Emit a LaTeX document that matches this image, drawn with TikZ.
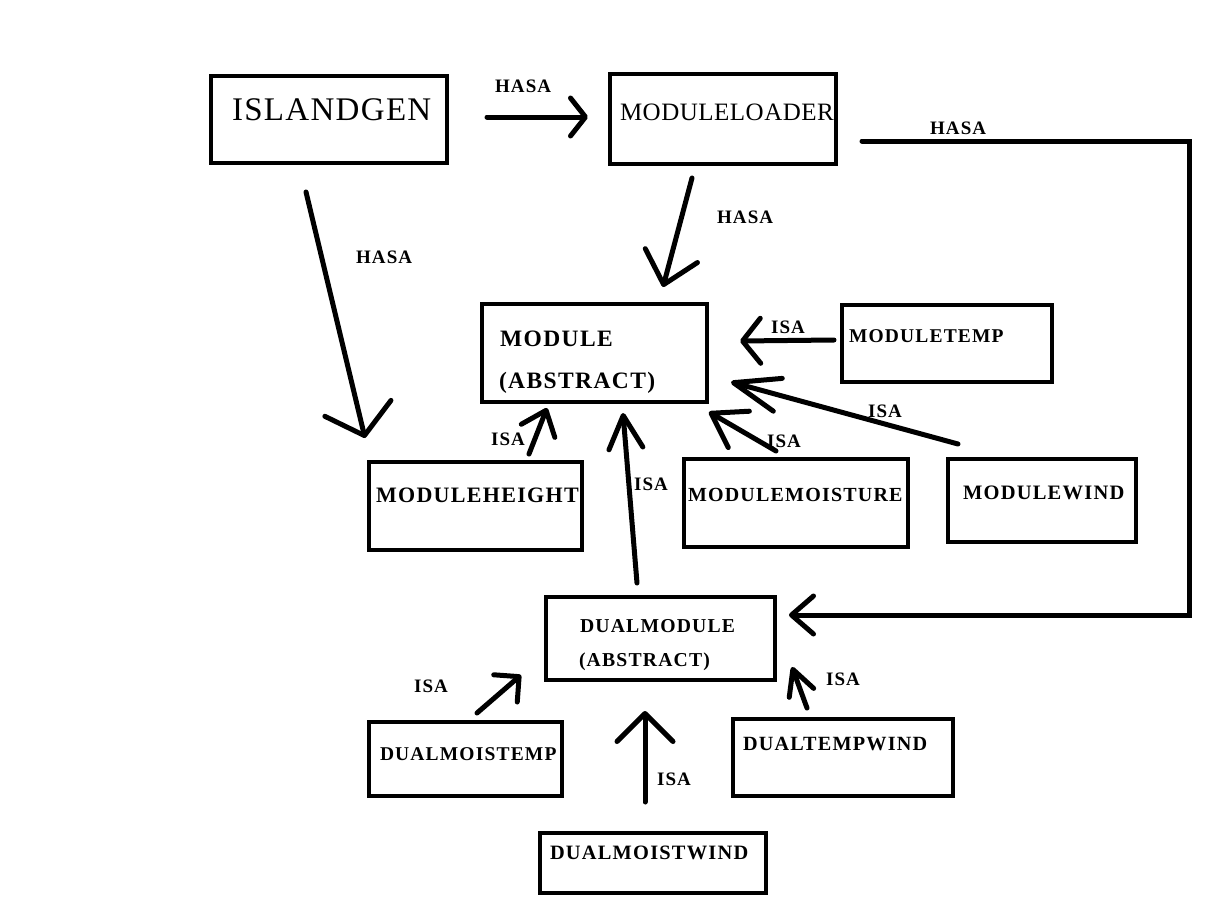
\documentclass[tikz,border=0pt]{standalone}
\usepackage{fontspec}
\setmainfont{Liberation Serif}
\usetikzlibrary{arrows.meta}
\newcommand\fsz[2]{\fontsize{#1pt}{#1pt}\selectfont\addfontfeature{LetterSpace=#2}}
\begin{document}
\begin{tikzpicture}[x=1pt,y=-1pt,
  box/.style={draw, line width=4.5pt, inner sep=0pt, outer sep=0pt, anchor=north west},
  txt/.style={anchor=base west, inner sep=0pt, outer sep=0pt},
  lbl/.style={anchor=base west, inner sep=0pt, outer sep=0pt, font=\bfseries\fsz{19}{6}},
  conn/.style={line width=5pt, line cap=round, line join=round},
  arr/.style 2 args={conn, -{Straight Barb[length=#1pt,width=#2pt,round]}}
]
\useasboundingbox[fill=white] (0,0) rectangle (1219,903);

% boxes
\node[box, minimum width=236pt, minimum height=87pt] (ig) at (211,76) {};
\node[box, minimum width=226pt, minimum height=90pt] (ml) at (610,74) {};
\node[box, minimum width=225pt, minimum height=98pt] (mod) at (482,304) {};
\node[box, minimum width=210pt, minimum height=77pt] (mt) at (842,305) {};
\node[box, minimum width=213pt, minimum height=88pt] (mh) at (369,462) {};
\node[box, minimum width=224pt, minimum height=88pt] (mm) at (684,459) {};
\node[box, minimum width=188pt, minimum height=83pt] (mw) at (948,459) {};
\node[box, minimum width=229pt, minimum height=83pt] (dm) at (546,597) {};
\node[box, minimum width=193pt, minimum height=74pt] (dmt) at (369,722) {};
\node[box, minimum width=220pt, minimum height=77pt] (dtw) at (733,719) {};
\node[box, minimum width=226pt, minimum height=60pt] (dmw) at (540,833) {};

% box texts
\node[txt, font=\fsz{33}{4}] (igt) at (232,120) {ISLANDGEN};
\node[txt, font=\fsz{25}{2}] (mlt) at (620,120) {MODULELOADER};
\node[txt, font=\bfseries\fsz{23.5}{6}] (modt1) at (500,346) {MODULE};
\node[txt, font=\bfseries\fsz{23.5}{6}] (modt2) at (499,388) {(ABSTRACT)};
\node[txt, font=\bfseries\fsz{19.5}{6}] (mtt) at (849,342) {MODULETEMP};
\node[txt, font=\bfseries\fsz{22}{6}] (mht) at (376,502) {MODULEHEIGHT};
\node[txt, font=\bfseries\fsz{20}{6}] (mmt) at (688,501) {MODULEMOISTURE};
\node[txt, font=\bfseries\fsz{20.5}{6}] (mwt) at (963,499) {MODULEWIND};
\node[txt, font=\bfseries\fsz{19.7}{6}] (dmt1) at (580,632) {DUALMODULE};
\node[txt, font=\bfseries\fsz{19.7}{6}] (dmt2) at (579,666) {(ABSTRACT)};
\node[txt, font=\bfseries\fsz{19.5}{6}] (dmtt) at (380,760) {DUALMOISTEMP};
\node[txt, font=\bfseries\fsz{20.2}{6}] (dtwt) at (743,750) {DUALTEMPWIND};
\node[txt, font=\bfseries\fsz{20.4}{6}] (dmwt) at (550,859) {DUALMOISTWIND};

% connector end points
\coordinate (a1s) at (487,117);  \coordinate (a1e) at (588,117);
\coordinate (a2s) at (692,178);  \coordinate (a2e) at (663,287);
\coordinate (a3s) at (306,192);  \coordinate (a3e) at (365,438);
\coordinate (a4s) at (862,141);  \coordinate (a4e) at (789,615);
\coordinate (a4c1) at (1189,141); \coordinate (a4c2) at (1189,615);
\coordinate (a5s) at (834,340);  \coordinate (a5e) at (740,341);
\coordinate (a6s) at (958,444);  \coordinate (a6e) at (731,382);
\coordinate (a7s) at (776,451);  \coordinate (a7e) at (709,412);
\coordinate (a8s) at (529,454);  \coordinate (a8e) at (547,408);
\coordinate (a9s) at (637,583);  \coordinate (a9e) at (623,413);
\coordinate (a10s) at (477,713); \coordinate (a10e) at (521,675);
\coordinate (a11s) at (645,802); \coordinate (a11e) at (645,711);
\coordinate (a12s) at (807,708); \coordinate (a12e) at (792,667);

% connectors
\draw[arr={15}{38}] (a1s) -- (a1e);
\draw[arr={30}{54}] (a2s) -- (a2e);
\draw[arr={28}{68}] (a3s) -- (a3e);
\draw[arr={22}{38}, line join=miter] (a4s) -- (a4c1) -- (a4c2) -- (a4e);
\draw[arr={18}{45}] (a5s) -- (a5e);
\draw[arr={46}{34}] (a6s) -- (a6e);
\draw[arr={32}{42}] (a7s) -- (a7e);
\draw[arr={22}{36}] (a8s) -- (a8e);
\draw[arr={33}{34}] (a9s) -- (a9e);
\draw[arr={18}{36}] (a10s) -- (a10e);
\draw[arr={28}{56}] (a11s) -- (a11e);
\draw[arr={25}{26}] (a12s) -- (a12e);

% connector labels
\node[lbl] (l1) at (495,92) {HASA};
\node[lbl] (l2) at (717,223) {HASA};
\node[lbl] (l3) at (356,263) {HASA};
\node[lbl] (l4) at (930,134) {HASA};
\node[lbl] (l5) at (771,333) {ISA};
\node[lbl] (l6) at (868,417) {ISA};
\node[lbl] (l7) at (767,447) {ISA};
\node[lbl] (l8) at (491,445) {ISA};
\node[lbl] (l9) at (634,490) {ISA};
\node[lbl] (l10) at (414,692) {ISA};
\node[lbl] (l11) at (657,785) {ISA};
\node[lbl] (l12) at (826,685) {ISA};
\end{tikzpicture}
\end{document}
